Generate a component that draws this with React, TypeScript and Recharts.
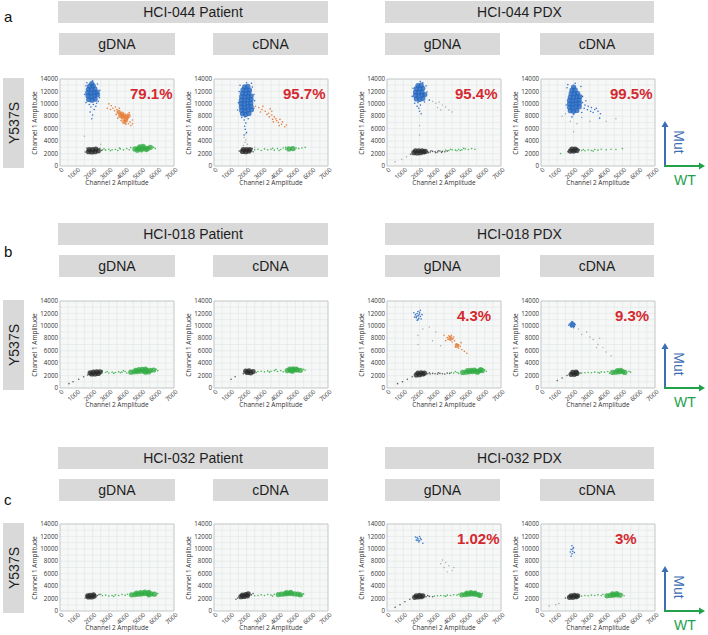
import React from 'react';
import { ScatterChart, Scatter, XAxis, YAxis, CartesianGrid, ReferenceArea } from 'recharts';

type P = [number, number];

const X_TICKS = [0, 500, 1000, 1500, 2000, 2500, 3000, 3500, 4000, 4500, 5000, 5500, 6000, 6500, 7000];
const Y_TICKS = [0, 1000, 2000, 3000, 4000, 5000, 6000, 7000, 8000, 9000, 10000, 11000, 12000, 13000, 14000];

const PATIENTS = ['HCI-044', 'HCI-018', 'HCI-032'];
const SOURCES = ['Patient', 'PDX'];
const ASSAYS = ['gDNA', 'cDNA'];
const ROW_LETTERS = ['a', 'b', 'c'];
const MUTATION = 'Y537S';

// ---- row a: HCI-044 ----
const A1_BLUE_CORE: P[] = [[1760,10700],[1960,10600],[2160,10750],[1720,11250],[1920,11200],[2120,11300],[2300,11450],[1700,11800],[1900,11750],[2100,11850],[2280,11900],[1740,12350],[1940,12300],[2140,12400],[1820,12850],[2040,12900],[1950,13250]];
const A1_BLUE_SPRAY: P[] = [[1600,10200],[2350,10400],[2050,9900],[1900,9500],[2100,9100],[1850,8700],[2000,8200],[1650,13400],[2300,13200],[2450,12200],[1520,11500],[2000,13700],[2200,9600],[1800,9900],[2420,11000],[1600,12900],[1950,7600],[2250,10100]];
const A1_ORANGE_CORE: P[] = [[3600,8700],[3800,8400],[3950,8100],[4100,7800],[3850,7800],[4050,7400],[3950,7100],[4200,8100],[3700,8100]];
const A1_ORANGE_SPRAY: P[] = [[3000,10000],[3150,9700],[3250,9300],[3400,9500],[3100,9100],[3350,8900],[3500,9100],[4200,6800],[4350,6500],[4050,6700],[3750,7300],[4450,7400],[3450,8300],[4250,8600],[2900,9300],[4450,6800],[3650,9300],[4300,7100],[3550,7700]];
const A1_BLACK_CORE: P[] = [[1750,2300],[1950,2250],[2150,2300],[2350,2450],[1800,2650],[2000,2650],[2200,2700]];
const A1_BLACK_SPRAY: P[] = [[1550,2250],[2450,2850],[2550,2500],[1650,2900]];
const A1_GREEN_CORE: P[] = [[4600,2750],[4800,2800],[5000,2850],[5200,2900],[5400,2850],[4900,3100],[5100,3150],[5300,2650],[4750,2550],[5550,3000],[5000,2600]];
const A1_GREEN_SPRAY: P[] = [[2600,2600],[2800,2550],[3000,2700],[3200,2600],[3400,2650],[3550,2500],[3700,2750],[3900,2600],[4100,2800],[4250,2600],[5750,3000],[5850,2800],[3100,2450],[3650,2900],[4350,2950],[2700,2750]];
const A1_GRAY: P[] = [[2500,3500],[1500,4800]];

const A2_BLUE_CORE: P[] = [[1750,8400],[1950,8300],[2150,8450],[1700,8950],[1900,8900],[2100,9000],[2300,9050],[1680,9500],[1880,9450],[2080,9550],[2280,9600],[1660,10050],[1860,10000],[2060,10100],[2260,10150],[1680,10600],[1880,10550],[2080,10650],[2280,10700],[1700,11150],[1900,11100],[2100,11200],[2280,11250],[1740,11700],[1940,11650],[2140,11750],[1780,12250],[1980,12250],[2180,12200],[1880,12750],[2080,12800]];
const A2_BLUE_SPRAY: P[] = [[1900,7900],[1850,7400],[1950,6900],[1880,6400],[1920,5900],[2000,5400],[1850,5000],[2100,7600],[1700,7800],[1500,10200],[2450,11500],[2450,9300],[1550,12000],[2350,12700],[2000,13400],[1600,13000],[2300,13300],[1450,9000],[2500,10500]];
const A2_ORANGE_SPRAY: P[] = [[2550,9600],[2750,9400],[2950,9100],[3150,8800],[3350,8500],[3550,8200],[3700,7900],[3600,7500],[3850,7300],[3950,7000],[4150,6700],[4350,6300],[3400,7900],[3800,7600],[4050,7500],[3250,8300],[2850,8700],[3550,8800],[4000,6500],[4200,7100],[3650,7100],[4450,6600],[3000,9600],[3450,9200]];
const A2_BLACK_CORE: P[] = [[1750,2350],[1950,2300],[2150,2400],[1800,2650],[2000,2650],[2200,2650]];
const A2_BLACK_SPRAY: P[] = [[1550,2400],[2350,2800],[2400,2300]];
const A2_GREEN_CORE: P[] = [[4600,2750],[4850,2800]];
const A2_GREEN_SPRAY: P[] = [[2500,2600],[2700,2700],[2900,2500],[3100,2750],[3300,2600],[3500,2700],[3700,2550],[3900,2800],[4100,2650],[4250,2900],[4400,2700],[4500,2850],[4700,2650],[4750,2950],[4950,2700],[5050,2900],[5200,2800],[5400,2900],[5600,3000],[4400,3000],[3600,2850],[4000,2500]];
const A2_GRAY: P[] = [[1850,4600],[1950,4200],[1900,3800],[2050,3500],[1800,3300],[1950,5200],[2500,3000]];

const A3_BLUE_CORE: P[] = [[1800,10800],[2000,10700],[2200,10850],[1750,11350],[1950,11300],[2150,11400],[2320,11500],[1750,11900],[1950,11850],[2150,11950],[1800,12450],[2000,12400],[2200,12500],[1900,12950],[2100,13000]];
const A3_BLUE_SPRAY: P[] = [[1900,10200],[2050,9800],[1950,9300],[2000,8800],[2100,8400],[1700,10100],[2300,10300],[1600,12500],[2400,12900],[2050,13600],[2200,13400],[1850,9600],[1550,11200],[2450,11900],[2600,10600]];
const A3_BLACK_CORE: P[] = [[1650,2150],[1850,2100],[2050,2150],[2250,2250],[1750,2450],[1950,2450],[2150,2450],[2350,2350]];
const A3_BLACK_SPRAY: P[] = [[2500,2300],[2650,2250],[2800,2350],[2950,2300],[3100,2250],[3250,2400],[3400,2350],[3550,2300],[3700,2400],[2700,2450],[3000,2150],[3350,2200],[1450,1900],[2550,2150],[3150,2450]];
const A3_GREEN_SPRAY: P[] = [[3800,2500],[4000,2600],[4200,2550],[4400,2700],[4600,2600],[4800,2750],[5000,2650],[5200,2800],[5400,2700],[4300,2450],[3900,2700],[3600,2550],[4500,2500],[4700,2850]];
const A3_GRAY: P[] = [[2800,10400],[3000,10100],[3200,10300],[3400,9800],[3600,9500],[3800,9000],[4000,8700],[3100,9400],[3300,9000],[500,700],[900,1100],[1200,1500],[2000,6500],[2000,5000]];

const A4_BLUE_CORE: P[] = [[1800,8900],[2000,8800],[2200,8950],[1750,9450],[1950,9400],[2150,9500],[2350,9550],[1750,10000],[1950,9950],[2150,10050],[2350,10100],[1750,10550],[1950,10500],[2150,10600],[2350,10600],[1800,11100],[2000,11050],[2200,11150],[2380,11150],[1850,11650],[2050,11650],[2250,11700],[1900,12200],[2100,12250],[2000,12700]];
const A4_BLUE_SPRAY: P[] = [[2550,10200],[2700,9800],[2900,9600],[3100,9400],[3300,9100],[3500,8800],[3650,8400],[2650,9300],[2850,9050],[3050,8800],[3400,9300],[2550,11200],[2450,12800],[1600,12600],[1550,9800],[2000,8300],[1900,7900],[2100,13300],[3200,8600],[2750,10500],[1650,13100],[2500,8600],[3600,7700]];
const A4_BLACK_CORE: P[] = [[1800,2400],[2000,2400],[2200,2500],[1900,2700],[2100,2700]];
const A4_BLACK_SPRAY: P[] = [[1650,2300],[2350,2600]];
const A4_GREEN_SPRAY: P[] = [[2500,2500],[2700,2450],[2900,2600],[3100,2500],[3300,2650],[3500,2550],[3700,2700],[4000,2600],[4300,2700],[4600,2650],[5000,2800],[3200,2400],[2600,2650],[1200,2000]];
const A4_GRAY: P[] = [[1500,8400],[1300,8000],[1800,7200],[2200,6800],[3000,7200],[4600,7600],[4000,7200],[2500,7800],[2000,5500]];

// ---- row b: HCI-018 ----
const B1_BLACK_CORE: P[] = [[1950,2250],[2150,2250],[2350,2350],[2050,2550],[2250,2600],[2450,2600],[1850,2450]];
const B1_BLACK_SPRAY: P[] = [[1700,2100],[1450,1800],[1150,1400],[800,1000],[550,700],[2600,2750]];
const B1_GREEN_CORE: P[] = [[4350,2550],[4550,2600],[4750,2650],[4950,2700],[5150,2750],[5350,2800],[5550,2850],[4650,2850],[4850,2950],[5050,3000],[5250,2550],[5450,2600],[5750,2900],[5250,3050]];
const B1_GREEN_SPRAY: P[] = [[2600,2450],[2800,2500],[3000,2400],[3200,2550],[3400,2500],[3600,2600],[3800,2550],[4000,2650],[4100,2400],[3300,2350],[3700,2450],[5900,3000],[6000,2800],[2900,2650],[3900,2800]];

const B2_BLACK_CORE: P[] = [[2050,2500],[2250,2450],[2400,2650],[2150,2750],[1950,2700]];
const B2_BLACK_SPRAY: P[] = [[1800,2300],[1300,1800],[1050,1400]];
const B2_GREEN_CORE: P[] = [[4500,2800],[4700,2850],[4900,2900],[5100,2900],[5300,2850],[4650,3050],[4850,3100],[5050,3050],[4800,2700]];
const B2_GREEN_SPRAY: P[] = [[2700,2650],[2900,2700],[3100,2600],[3300,2750],[3500,2700],[3700,2800],[3900,2650],[4100,2800],[4250,2600],[3400,2550],[5500,3000],[5600,2850],[2600,2500],[3800,2950]];

const B3_BLUE_SPRAY: P[] = [[1800,11300],[1900,11600],[2000,11900],[1850,12000],[1950,11200],[1750,11800],[2050,11500],[1900,12300],[2100,11100],[1700,11400],[2000,12200],[1850,10900],[2150,11800],[1650,12100],[1950,11750],[1800,11550],[2050,12500],[1900,11000]];
const B3_ORANGE_CORE: P[] = [[3900,8000],[4300,6800]];
const B3_ORANGE_SPRAY: P[] = [[3700,8100],[3850,8250],[4050,7900],[3900,7700],[3800,8400],[4100,8200],[3950,8500],[4250,7100],[4400,6900],[4200,6600],[4400,6400],[4300,7000],[4500,6700],[3600,7600],[4000,7400],[4600,6200],[4750,5900],[3500,8500],[4150,7600],[3750,7800],[4550,7300],[4900,5600]];
const B3_BLACK_CORE: P[] = [[1800,2100],[2000,2150],[2200,2250],[1900,2400],[2100,2450],[2300,2400]];
const B3_BLACK_SPRAY: P[] = [[2500,2300],[2650,2250],[2800,2350],[2950,2300],[3100,2250],[3250,2350],[3400,2300],[3550,2250],[3700,2400],[3850,2350],[2600,2450],[3150,2450],[1550,1800],[1250,1400],[950,1000],[650,700]];
const B3_GREEN_CORE: P[] = [[4650,2500],[4850,2550],[5050,2600],[5250,2650],[5450,2700],[5650,2750],[4950,2800],[5150,2850],[5350,2900],[5550,2550],[5850,2800],[5750,2950]];
const B3_GREEN_SPRAY: P[] = [[4100,2400],[4300,2500],[4400,2350],[6000,2900],[6100,2700],[4200,2650],[3950,2500]];
const B3_GRAY: P[] = [[2600,9800],[3000,9000],[2200,9500],[1900,8500],[2800,7600],[3300,6800],[1900,7000]];

const B4_BLUE_CORE: P[] = [[1920,10200]];
const B4_BLUE_SPRAY: P[] = [[1800,10000],[1900,10300],[2000,10100],[1850,10500],[1950,9900],[2050,10400],[1750,10300],[1900,10700],[2000,9700],[1850,9800],[2100,10200],[1950,10600],[1700,10100],[2050,9900]];
const B4_BLACK_CORE: P[] = [[1850,2200],[2050,2200],[2200,2350],[1950,2500],[2150,2550]];
const B4_BLACK_SPRAY: P[] = [[1600,2000],[1300,1600],[1000,1200],[2400,2400]];
const B4_GREEN_CORE: P[] = [[4400,2500],[4600,2550],[4800,2600],[5000,2650],[4700,2800],[4900,2850],[5150,2500]];
const B4_GREEN_SPRAY: P[] = [[2500,2400],[2700,2450],[2900,2500],[3100,2450],[3300,2550],[3500,2500],[3700,2600],[3900,2550],[4100,2650],[3600,2400],[5400,2700],[5500,2550],[4200,2400]];
const B4_GRAY: P[] = [[2800,9000],[3000,8200],[3200,7800],[3500,7000],[3800,6500],[4000,5800],[4300,5200],[2500,8600],[3600,8000],[3400,6500],[2300,9500]];

// ---- row c: HCI-032 ----
const C1_BLACK_CORE: P[] = [[1750,2250],[1950,2250],[2100,2400],[1850,2500],[2050,2600],[1700,2450]];
const C1_BLACK_SPRAY: P[] = [[2300,2500],[2400,2650],[1550,2100]];
const C1_GREEN_CORE: P[] = [[4400,2600],[4600,2650],[4800,2700],[5000,2750],[5200,2800],[5400,2800],[5600,2750],[4700,2900],[4950,2950],[5200,3050],[5450,2600],[5800,2700],[5450,3000]];
const C1_GREEN_SPRAY: P[] = [[2600,2450],[2800,2550],[3000,2400],[3200,2500],[3400,2600],[3600,2500],[3800,2650],[4000,2550],[4150,2700],[3300,2350],[6000,2800],[2500,2700]];

const C2_BLACK_CORE: P[] = [[1650,2300],[1850,2350],[2050,2450],[1750,2550],[1950,2650],[2100,2750]];
const C2_BLACK_SPRAY: P[] = [[1450,2100],[2300,2600],[2400,2800],[1350,1900]];
const C2_GREEN_CORE: P[] = [[3950,2650],[4150,2700],[4350,2750],[4550,2800],[4750,2800],[4950,2750],[5150,2700],[4450,2950],[4700,3000],[5300,2600]];
const C2_GREEN_SPRAY: P[] = [[2500,2450],[2700,2500],[2900,2600],[3100,2500],[3300,2650],[3500,2550],[3700,2700],[5400,2500],[5500,2750],[3600,2400]];

const C3_BLUE_SPRAY: P[] = [[1800,11400],[1900,11600],[2000,11300],[1850,11800],[2050,11700],[1950,11100],[2100,11500],[2200,10900],[1750,11900],[2000,12000],[1900,11350]];
const C3_BLACK_CORE: P[] = [[1700,2200],[1900,2250],[2100,2300],[1800,2450],[2000,2500],[2200,2450]];
const C3_BLACK_SPRAY: P[] = [[2400,2300],[2600,2350],[2800,2300],[1400,1900],[1100,1500],[800,1000],[500,600],[2500,2500]];
const C3_GREEN_CORE: P[] = [[4600,2600],[4800,2650],[5000,2700],[5200,2750],[5400,2700],[5600,2650],[4900,2900],[5150,2950],[5400,2900],[5700,2500]];
const C3_GREEN_SPRAY: P[] = [[2900,2400],[3100,2450],[3300,2500],[3500,2450],[3700,2550],[3900,2500],[4100,2600],[4300,2550],[4400,2700],[3600,2350],[5850,2800]];
const C3_GRAY: P[] = [[3400,8200],[3600,7800],[3800,7300],[3500,7000],[4000,6500],[3700,6300],[4100,7000],[3300,7600]];

const C4_BLUE_SPRAY: P[] = [[1900,9200],[1950,9600],[1850,9900],[2000,10200],[1900,10500],[1800,9500],[2050,9400],[1950,10000],[1850,8800]];
const C4_BLACK_CORE: P[] = [[1750,2200],[1950,2200],[2150,2300],[1850,2450],[2050,2500],[2250,2450]];
const C4_BLACK_SPRAY: P[] = [[2300,2400],[1500,2100]];
const C4_GREEN_CORE: P[] = [[4050,2450],[4250,2500],[4450,2550],[4650,2600],[4850,2550],[4400,2750],[4650,2800]];
const C4_GREEN_SPRAY: P[] = [[2500,2400],[2700,2500],[2900,2450],[3100,2550],[3300,2500],[3500,2600],[3700,2500],[3800,2700],[5000,2700],[5100,2450]];
const C4_GRAY: P[] = [[500,800],[1100,1200],[900,1000]];

const PERCENTS = [
  ['79.1%', '95.7%', '95.4%', '99.5%'],
  ['', '', '4.3%', '9.3%'],
  ['', '', '1.02%', '3%'],
];

type Sets = { [k: string]: P[] };

const PANEL_SETS: Sets[][] = [
  [
    { gray: A1_GRAY, greenSpray: A1_GREEN_SPRAY, greenCore: A1_GREEN_CORE, blackSpray: A1_BLACK_SPRAY, blackCore: A1_BLACK_CORE, orangeSpray: A1_ORANGE_SPRAY, orangeCore: A1_ORANGE_CORE, blueSpray: A1_BLUE_SPRAY, blueCore: A1_BLUE_CORE },
    { gray: A2_GRAY, greenSpray: A2_GREEN_SPRAY, greenCore: A2_GREEN_CORE, blackSpray: A2_BLACK_SPRAY, blackCore: A2_BLACK_CORE, orangeSpray: A2_ORANGE_SPRAY, blueSpray: A2_BLUE_SPRAY, blueCore: A2_BLUE_CORE },
    { gray: A3_GRAY, greenSpray: A3_GREEN_SPRAY, blackSpray: A3_BLACK_SPRAY, blackCore: A3_BLACK_CORE, blueSpray: A3_BLUE_SPRAY, blueCore: A3_BLUE_CORE },
    { gray: A4_GRAY, greenSpray: A4_GREEN_SPRAY, blackSpray: A4_BLACK_SPRAY, blackCore: A4_BLACK_CORE, blueSpray: A4_BLUE_SPRAY, blueCore: A4_BLUE_CORE },
  ],
  [
    { greenSpray: B1_GREEN_SPRAY, greenCore: B1_GREEN_CORE, blackSpray: B1_BLACK_SPRAY, blackCore: B1_BLACK_CORE },
    { greenSpray: B2_GREEN_SPRAY, greenCore: B2_GREEN_CORE, blackSpray: B2_BLACK_SPRAY, blackCore: B2_BLACK_CORE },
    { gray: B3_GRAY, greenSpray: B3_GREEN_SPRAY, greenCore: B3_GREEN_CORE, blackSpray: B3_BLACK_SPRAY, blackCore: B3_BLACK_CORE, orangeSpray: B3_ORANGE_SPRAY, orangeCore: B3_ORANGE_CORE, blueSpray: B3_BLUE_SPRAY },
    { gray: B4_GRAY, greenSpray: B4_GREEN_SPRAY, greenCore: B4_GREEN_CORE, blackSpray: B4_BLACK_SPRAY, blackCore: B4_BLACK_CORE, blueSpray: B4_BLUE_SPRAY, blueCore: B4_BLUE_CORE },
  ],
  [
    { greenSpray: C1_GREEN_SPRAY, greenCore: C1_GREEN_CORE, blackSpray: C1_BLACK_SPRAY, blackCore: C1_BLACK_CORE },
    { greenSpray: C2_GREEN_SPRAY, greenCore: C2_GREEN_CORE, blackSpray: C2_BLACK_SPRAY, blackCore: C2_BLACK_CORE },
    { gray: C3_GRAY, greenSpray: C3_GREEN_SPRAY, greenCore: C3_GREEN_CORE, blackSpray: C3_BLACK_SPRAY, blackCore: C3_BLACK_CORE, blueSpray: C3_BLUE_SPRAY },
    { gray: C4_GRAY, greenSpray: C4_GREEN_SPRAY, greenCore: C4_GREEN_CORE, blackSpray: C4_BLACK_SPRAY, blackCore: C4_BLACK_CORE, blueSpray: C4_BLUE_SPRAY },
  ],
];

// draw order: sparse first, dense clusters on top
const SERIES = [
  { key: 'gray', color: '#9c9c9c', r: 0.7, op: 0.9 },
  { key: 'greenSpray', color: '#3fb34f', r: 0.8, op: 0.95 },
  { key: 'greenCore', color: '#33ad45', r: 2.6, op: 0.8 },
  { key: 'blackSpray', color: '#4a4a4a', r: 0.8, op: 0.9 },
  { key: 'blackCore', color: '#2b2b2b', r: 2.6, op: 0.8 },
  { key: 'orangeSpray', color: '#e5772f', r: 0.8, op: 0.95 },
  { key: 'orangeCore', color: '#e5772f', r: 2.3, op: 0.75 },
  { key: 'blueSpray', color: '#2c6ec2', r: 0.8, op: 0.95 },
  { key: 'blueCore', color: '#2466bf', r: 2.6, op: 0.8 },
];

const ROW_TOP = [0, 222, 446];
const PLOT_TOP = [79, 301, 524];
const PLOT_LEFT = [60, 214, 387, 541];
const PLOT_W = 114;
const PLOT_H = 87;
const Y_AXIS_W = 40;

const HEAD_FONT = '"Liberation Sans", Arial, sans-serif';
const AXIS_FONT = '"Open Sans", "DejaVu Sans", sans-serif';
const BOX_BG = '#d9d9d9';

const toPts = (pts: P[]) => pts.map(([x, y]) => ({ x, y }));

const XTick = (props: any) => {
  const { x, y, payload } = props;
  if (payload.value % 1000 !== 0) return <g />;
  return (
    <g transform={`translate(${x + 3},${y + 3}) rotate(-42)`}>
      <text x={0} y={0} dy="0.3em" textAnchor="end" fontSize={6.2} fill="#333" fontFamily={AXIS_FONT}>
        {payload.value}
      </text>
    </g>
  );
};

const Panel = ({ left, top, sets, pct, pctDx }: { left: number; top: number; sets: Sets; pct: string; pctDx: number }) => {
  const chartW = Y_AXIS_W + PLOT_W + 8;
  const chartH = 5 + PLOT_H + 32;
  return (
    <div style={{ position: 'absolute', left: left - Y_AXIS_W, top: top - 5, width: chartW, height: chartH }}>
      <ScatterChart width={chartW} height={chartH} margin={{ top: 5, right: 8, bottom: 0, left: 0 }}>
        <CartesianGrid stroke="#e3e6e6" strokeWidth={0.6} fill="#f6f7f7" />
        <XAxis type="number" dataKey="x" domain={[0, 7000]} ticks={X_TICKS} interval={0} height={32}
          tickLine={false} axisLine={false} tickSize={0} tickMargin={0} tick={<XTick />} allowDataOverflow />
        <YAxis type="number" dataKey="y" domain={[0, 14000]} ticks={Y_TICKS} interval={0} width={Y_AXIS_W}
          tickLine={false} axisLine={false} tickSize={0} tickMargin={2}
          tick={{ fontSize: 6.2, fill: '#333', fontFamily: AXIS_FONT }}
          tickFormatter={(v: number) => (v % 2000 === 0 ? String(v) : '')} allowDataOverflow />
        <ReferenceArea x1={0} x2={7000} y1={0} y2={14000} fill="none" stroke="#c2c4c4" strokeWidth={0.8} />
        {SERIES.filter(s => sets[s.key] && sets[s.key].length > 0).map(s => (
          <Scatter key={s.key} data={toPts(sets[s.key])} fill={s.color} isAnimationActive={false}
            shape={(p: any) => <circle cx={p.cx} cy={p.cy} r={s.r} fill={s.color} fillOpacity={s.op} />} />
        ))}
      </ScatterChart>
      <div style={{ position: 'absolute', left: Y_AXIS_W, width: PLOT_W, top: 5 + PLOT_H + 13, textAlign: 'center',
        fontFamily: AXIS_FONT, fontSize: 6.5, lineHeight: '8px', color: '#333', whiteSpace: 'nowrap' }}>
        Channel 2 Amplitude
      </div>
      <div style={{ position: 'absolute', left: Y_AXIS_W - 25 - 40, top: 5 + PLOT_H / 2 - 4, width: 80, textAlign: 'center',
        transform: 'rotate(-90deg)', fontFamily: AXIS_FONT, fontSize: 6.5, lineHeight: '8px', color: '#333', whiteSpace: 'nowrap' }}>
        Channel 1 Amplitude
      </div>
      {pct && (
        <div style={{ position: 'absolute', left: Y_AXIS_W + pctDx, top: 5 + 15 - 9, lineHeight: '18px',
          fontFamily: HEAD_FONT, fontWeight: 'bold', fontSize: 15, color: '#d4292f', whiteSpace: 'nowrap' }}>
          {pct}
        </div>
      )}
    </div>
  );
};

const Box = ({ left, top, width, height, text }: { left: number; top: number; width: number; height: number; text: string }) => (
  <div style={{ position: 'absolute', left, top, width, height, background: BOX_BG, display: 'flex',
    alignItems: 'center', justifyContent: 'center', fontFamily: HEAD_FONT, fontSize: 14, color: '#1e1e1e' }}>
    {text}
  </div>
);

const Arrows = ({ top }: { top: number }) => {
  const x0 = 665;
  const yb = top + 87;
  return (
    <>
      <svg style={{ position: 'absolute', left: 0, top: 0, overflow: 'visible' }} width={708} height={635}>
        <line x1={x0} y1={yb} x2={x0} y2={top + 47} stroke="#3d6db2" strokeWidth={2} />
        <polygon points={`${x0 - 3.5},${top + 48} ${x0 + 3.5},${top + 48} ${x0},${top + 42}`} fill="#3d6db2" />
        <line x1={x0 - 1} y1={yb} x2={700} y2={yb} stroke="#22a14a" strokeWidth={2} />
        <polygon points={`699,${yb - 3.5} 699,${yb + 3.5} 705,${yb}`} fill="#22a14a" />
      </svg>
      <div style={{ position: 'absolute', left: 679 - 20, top: top + 63 - 8, width: 40, textAlign: 'center', lineHeight: '16px',
        transform: 'rotate(90deg)', fontFamily: HEAD_FONT, fontSize: 14, color: '#3d6db2' }}>Mut</div>
      <div style={{ position: 'absolute', left: 685 - 20, top: top + 101 - 8, width: 40, textAlign: 'center', lineHeight: '16px',
        fontFamily: HEAD_FONT, fontSize: 14, color: '#22a14a' }}>WT</div>
    </>
  );
};

const LETTER_TOP = [9, 244, 492];
const PCT_DX = [
  [70, 69, 68, 69],
  [70, 70, 70, 74],
  [70, 70, 70, 74],
];

export default function App() {
  return (
    <div style={{ position: 'absolute', left: 0, top: 0, width: 708, height: 635, background: '#fff', fontFamily: HEAD_FONT }}>
      {PATIENTS.map((pt, r) => {
        const t = ROW_TOP[r];
        return (
          <React.Fragment key={pt}>
            <div style={{ position: 'absolute', left: 4, top: LETTER_TOP[r], fontSize: 15, lineHeight: '16px', color: '#111' }}>
              {ROW_LETTERS[r]}
            </div>
            <Box left={58} top={t + 1} width={270} height={22} text={`${pt} ${SOURCES[0]}`} />
            <Box left={385} top={t + 1} width={269} height={22} text={`${pt} ${SOURCES[1]}`} />
            <Box left={59} top={t + 33} width={116} height={22} text={ASSAYS[0]} />
            <Box left={213} top={t + 33} width={115} height={22} text={ASSAYS[1]} />
            <Box left={385} top={t + 33} width={115} height={22} text={ASSAYS[0]} />
            <Box left={540} top={t + 33} width={114} height={22} text={ASSAYS[1]} />
            <div style={{ position: 'absolute', left: 3, top: PLOT_TOP[r] - 1, width: 21, height: 90, background: BOX_BG }}>
              <div style={{ position: 'absolute', left: -35, top: 37, width: 91, textAlign: 'center', lineHeight: '16px',
                transform: 'rotate(-90deg)', fontSize: 14, color: '#1e1e1e' }}>{MUTATION}</div>
            </div>
            {PLOT_LEFT.map((pl, c) => (
              <Panel key={c} left={pl} top={PLOT_TOP[r]} sets={PANEL_SETS[r][c]} pct={PERCENTS[r][c]} pctDx={PCT_DX[r][c]} />
            ))}
            <Arrows top={PLOT_TOP[r]} />
          </React.Fragment>
        );
      })}
    </div>
  );
}
